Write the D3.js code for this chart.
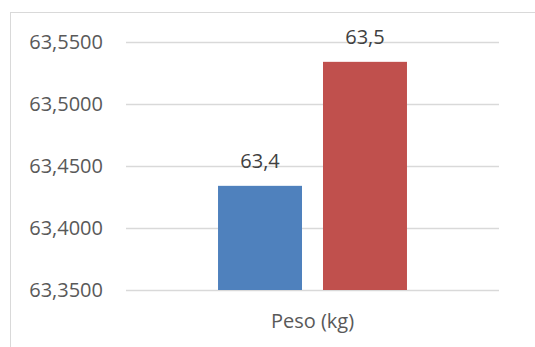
<!DOCTYPE html>
<html>
<head>
<meta charset="utf-8">
<script src="https://cdn.jsdelivr.net/npm/d3@7"></script>
<style>
  html, body { margin: 0; padding: 0; background: #fff; }
  svg { display: block; font-family: "Open Sans", "DejaVu Sans", sans-serif; }
</style>
</head>
<body>
<svg id="chart" width="535" height="347"></svg>
<script>
// Chart data
const categories = ["Peso (kg)"];
const series = ["Serie 1", "Serie 2"];
const values = [63.434, 63.534];
const yTicks = [63.35, 63.40, 63.45, 63.50, 63.55];
const colors = ["#4F81BD", "#C0504D"];

const locale = d3.formatLocale({ decimal: ",", thousands: ".", grouping: [3], currency: ["", " €"] });
const tickFmt = locale.format(".4f");
const labelFmt = locale.format(".1f");

const svg = d3.select("#chart");
const W = 535, H = 347;
const plot = { left: 126, right: 499, top: 42, bottom: 290 };

// Chart area frame
svg.append("rect")
  .attr("x", 10.5).attr("y", 12.5)
  .attr("width", W).attr("height", H)
  .attr("fill", "none").attr("stroke", "#D9D9D9").attr("stroke-width", 1);

const y = d3.scaleLinear()
  .domain([yTicks[0], yTicks[yTicks.length - 1]])
  .range([plot.bottom, plot.top]);

const x0 = d3.scaleBand()
  .domain(categories)
  .range([plot.left, plot.right])
  .paddingInner(0).paddingOuter(0.487);

const x1 = d3.scaleBand()
  .domain(series)
  .range([0, x0.bandwidth()])
  .paddingInner(0.2).paddingOuter(0);

// Horizontal gridlines
svg.append("g")
  .selectAll("line")
  .data(yTicks)
  .join("line")
  .attr("x1", plot.left).attr("x2", plot.right)
  .attr("y1", d => Math.round(y(d)) + 0.5)
  .attr("y2", d => Math.round(y(d)) + 0.5)
  .attr("stroke", "#D9D9D9").attr("stroke-width", 1.3);

// Y axis labels
const yAxis = d3.axisLeft(y)
  .tickValues(yTicks)
  .tickFormat(tickFmt)
  .tickSize(0)
  .tickPadding(0);

const yg = svg.append("g")
  .attr("transform", "translate(103,0)")
  .call(yAxis);
yg.select(".domain").remove();
yg.selectAll("text")
  .attr("font-family", "Open Sans, sans-serif")
  .attr("font-size", 20)
  .attr("fill", "#595959");

// Bars
const groups = svg.append("g")
  .selectAll("g")
  .data(categories)
  .join("g")
  .attr("transform", d => `translate(${x0(d)},0)`);

const rows = series.map((s, i) => ({ s, v: values[i], c: colors[i] }));

groups.selectAll("rect")
  .data(rows)
  .join("rect")
  .attr("x", d => x1(d.s))
  .attr("width", x1.bandwidth())
  .attr("y", d => y(d.v))
  .attr("height", d => y(yTicks[0]) - y(d.v))
  .attr("fill", d => d.c);

// Value labels
groups.selectAll("text.val")
  .data(rows)
  .join("text")
  .attr("class", "val")
  .attr("x", d => x1(d.s) + x1.bandwidth() / 2)
  .attr("y", d => y(d.v) - 18)
  .attr("text-anchor", "middle")
  .attr("font-size", 20)
  .attr("fill", "#404040")
  .text(d => labelFmt(d.v));

// Category axis label
const xAxis = d3.axisBottom(x0).tickSize(0).tickPadding(0);
const xg = svg.append("g")
  .attr("transform", `translate(0,${plot.bottom})`)
  .call(xAxis);
xg.select(".domain").remove();
xg.selectAll("text")
  .attr("dy", null)
  .attr("y", 38)
  .attr("font-family", "Open Sans, sans-serif")
  .attr("font-size", 20)
  .attr("fill", "#595959");
</script>
</body>
</html>
